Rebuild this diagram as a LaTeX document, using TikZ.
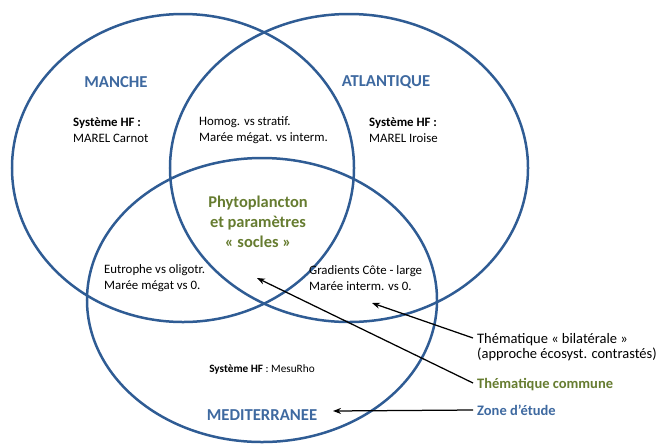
\documentclass[tikz,border=0pt]{standalone}
\usepackage{fontspec}
\setmainfont{Carlito}
\usetikzlibrary{arrows.meta}
\definecolor{zoneblue}{RGB}{47,92,148}
\definecolor{labelblue}{RGB}{62,105,160}
\definecolor{themegreen}{RGB}{102,124,48}

\begin{document}
\begin{tikzpicture}[x=0.4mm,y=-0.4mm, every node/.style={inner sep=0pt},
    zone/.style={draw=zoneblue, line width=1mm},
    region/.style={font=\fontsize{19}{22}\selectfont\bfseries, text=labelblue},
    info/.style={font=\fontsize{14.6}{18}\selectfont, align=left, anchor=west},
    socle/.style={font=\fontsize{18.7}{22.5}\selectfont\bfseries, text=themegreen, align=center},
    legend/.style={font=\fontsize{16.5}{17.5}\selectfont, align=left, anchor=west},
    pointer/.style={line width=0.5mm, -{Stealth[length=3.2mm, width=2.4mm]}}]
    \useasboundingbox (0,0) rectangle (657,444);

    % the three study zones
    \draw[zone] (183,168) ellipse [x radius=68.4mm, y radius=61.6mm];
    \draw[zone] (349,168) ellipse [x radius=71.6mm, y radius=61.6mm];
    \draw[zone] (262,300) ellipse [x radius=70mm, y radius=56.8mm];

    \node[region] (manche) at (116,82) {MANCHE};
    \node[region] (atl) at (386,82) {ATLANTIQUE};
    \node[region] (med) at (262,415) {MEDITERRANEE};

    \node[info] (hfM) at (73,130) {\textbf{Système HF :}\\MAREL Carnot};
    \node[info] (hfA) at (369,130) {\textbf{Système HF :}\\MAREL Iroise};
    \node[info] (ma) at (199,130) {Homog. vs stratif.\\Marée mégat. vs interm.};
    \node[info] (mm) at (104,278) {Eutrophe vs oligotr.\\Marée mégat vs 0.};
    \node[info] (am) at (309,278) {Gradients Côte - large\\Marée interm. vs 0.};
    \node[info, anchor=center, font=\fontsize{12.8}{16}\selectfont] (hfMed) at (262,369) {\textbf{Système HF} : MesuRho};

    \node[socle] (commun) at (258,222) {Phytoplancton\\et paramètres\\« socles »};

    % legend
    \node[legend] (bil) at (477,347) {Thématique « bilatérale »\\(approche écosyst. contrastés)};
    \node[legend, text=themegreen, font=\fontsize{16.5}{17.5}\selectfont\bfseries] (com) at (477,385) {Thématique commune};
    \node[legend, text=labelblue, font=\fontsize{16.5}{17.5}\selectfont\bfseries] (etude) at (477,410) {Zone d’étude};

    \coordinate (tipAM) at (372,303);
    \coordinate (tipC) at (257,278);
    \coordinate (tipZ) at (333,411);

    \draw[pointer] ([xshift=-1.6mm, yshift=3.6mm]bil.west) -- (tipAM);
    \draw[pointer] ([xshift=-1.6mm, yshift=0.8mm]com.west) -- (tipC);
    \draw[pointer] ([xshift=-1.6mm]etude.west) -- (tipZ);

  \end{tikzpicture}
\end{document}
